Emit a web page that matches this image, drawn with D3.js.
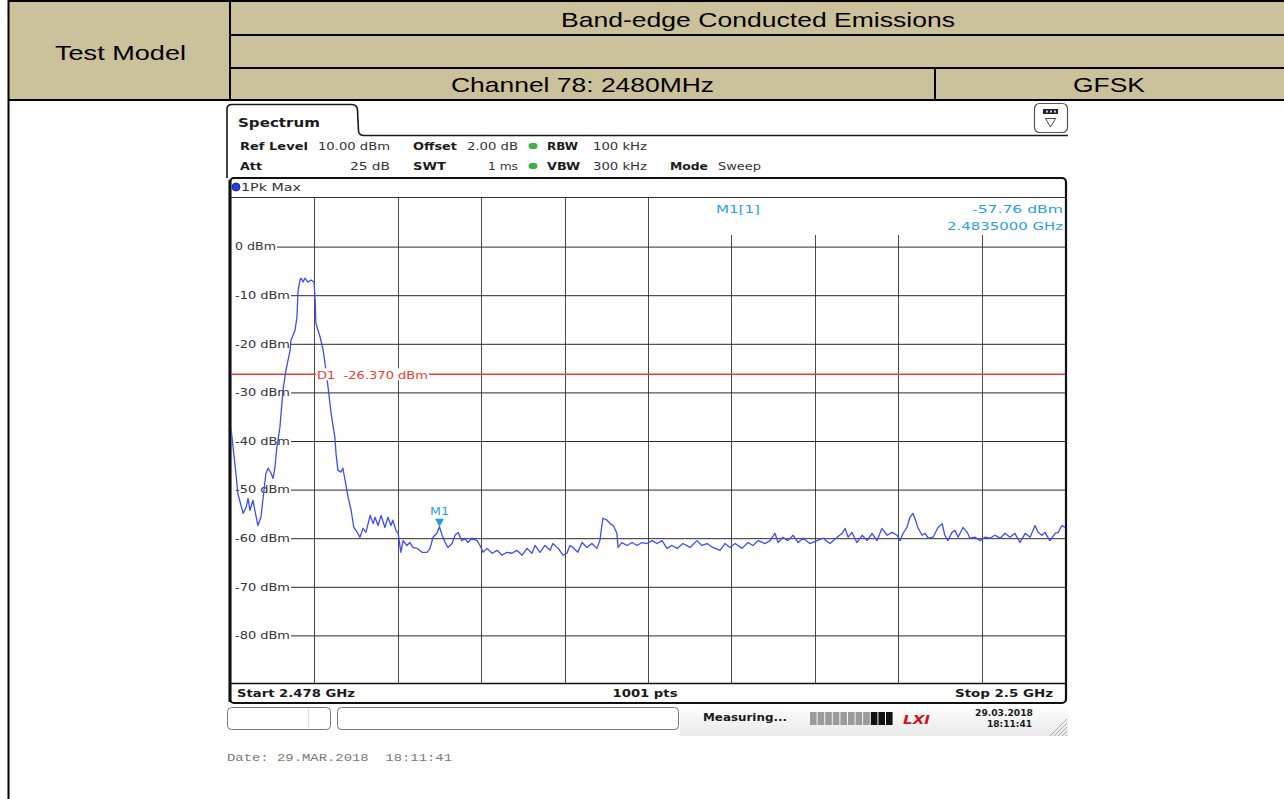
<!DOCTYPE html>
<html>
<head>
<meta charset="utf-8">
<script src="https://cdn.jsdelivr.net/npm/d3@7"></script>
<style>
  html, body { margin: 0; padding: 0; background: #fff; }
  svg { display: block; }
</style>
</head>
<body>
<svg id="chart" width="1284" height="799"></svg>
<script>
// ---- Report table text ----
const headerTitle = "Band-edge Conducted Emissions";
const headerRowLabel = "Test Model";
const channelLabel = "Channel 78: 2480MHz";
const modulationLabel = "GFSK";

// ---- Analyzer settings ----
const startMHz = 2478;
const stopMHz = 2500;
const refLevelDbm = 10;
const bottomLevelDbm = -90;
const xDivisions = 10;
const yTickValues = [0, -10, -20, -30, -40, -50, -60, -70, -80];
const yTickLabels = ["0 dBm", "-10 dBm", "-20 dBm", "-30 dBm", "-40 dBm", "-50 dBm", "-60 dBm", "-70 dBm", "-80 dBm"];
const displayLineDbm = -26.37;
const markerFreqMHz = 2483.5;
const markerLevelDbm = -57.76;

// ---- 1Pk Max trace ----
const traceFreqMHz = [
  2478.00,2478.13,2478.18,2478.32,2478.40,2478.45,2478.50,2478.58,2478.63,2478.71,
  2478.79,2478.84,2478.92,2478.98,2479.06,2479.11,2479.16,2479.21,2479.29,2479.37,
  2479.45,2479.56,2479.58,2479.69,2479.74,2479.77,2479.82,2479.85,2479.90,2479.95,
  2480.03,2480.11,2480.19,2480.22,2480.24,2480.35,2480.43,2480.48,2480.56,2480.64,
  2480.74,2480.77,2480.82,2480.90,2480.95,2481.01,2481.09,2481.17,2481.24,2481.30,
  2481.40,2481.48,2481.56,2481.67,2481.75,2481.80,2481.88,2481.96,2482.06,2482.14,
  2482.22,2482.27,2482.35,2482.41,2482.48,2482.54,2482.64,2482.72,2482.80,2482.91,
  2483.04,2483.17,2483.25,2483.33,2483.43,2483.50,2483.57,2483.65,2483.72,2483.83,
  2483.91,2483.99,2484.09,2484.17,2484.25,2484.36,2484.49,2484.57,2484.65,2484.75,
  2484.89,2485.02,2485.15,2485.28,2485.41,2485.54,2485.68,2485.81,2485.94,2486.02,
  2486.15,2486.28,2486.42,2486.49,2486.63,2486.76,2486.86,2486.94,2487.02,2487.15,
  2487.26,2487.39,2487.52,2487.65,2487.73,2487.81,2487.92,2488.00,2488.08,2488.18,
  2488.21,2488.31,2488.45,2488.58,2488.71,2488.84,2488.97,2489.11,2489.24,2489.37,
  2489.50,2489.63,2489.77,2489.92,2490.11,2490.29,2490.42,2490.56,2490.71,2490.90,
  2491.03,2491.16,2491.30,2491.48,2491.64,2491.77,2491.90,2492.09,2492.22,2492.35,
  2492.43,2492.56,2492.69,2492.83,2492.96,2493.09,2493.27,2493.46,2493.62,2493.80,
  2493.99,2494.12,2494.20,2494.28,2494.38,2494.51,2494.65,2494.78,2494.91,2495.04,
  2495.17,2495.31,2495.44,2495.57,2495.65,2495.73,2495.83,2495.91,2495.99,2496.04,
  2496.12,2496.23,2496.31,2496.39,2496.52,2496.65,2496.76,2496.83,2496.91,2497.02,
  2497.10,2497.18,2497.31,2497.42,2497.49,2497.63,2497.76,2497.89,2498.02,2498.15,
  2498.29,2498.42,2498.55,2498.68,2498.81,2498.95,2499.08,2499.21,2499.29,2499.39,
  2499.47,2499.60,2499.74,2499.82,2499.92,2500.00
];
const traceLevelDbm = [
  -37.5,-46.8,-50.9,-55.0,-53.7,-51.9,-54.4,-52.3,-54.4,-57.5,
  -55.8,-52.3,-46.8,-45.7,-46.8,-47.8,-45.5,-41.4,-37.3,-29.7,
  -25.5,-21.4,-19.4,-17.3,-14.6,-9.1,-7.0,-6.6,-7.4,-6.6,
  -7.4,-7.0,-7.4,-11.1,-15.9,-18.7,-21.4,-24.1,-29.0,-34.4,
  -39.3,-42.6,-46.1,-46.5,-45.7,-48.2,-51.7,-54.4,-57.9,-58.5,
  -59.9,-58.1,-58.9,-55.4,-57.1,-55.8,-57.5,-55.4,-57.9,-55.8,
  -57.5,-56.4,-58.5,-59.1,-63.0,-60.6,-61.6,-61.0,-62.0,-62.2,
  -63.0,-63.0,-62.2,-59.9,-59.1,-57.76,-59.5,-61.0,-62.0,-61.2,
  -59.5,-58.9,-60.6,-60.1,-61.0,-60.1,-60.6,-61.6,-63.0,-62.2,
  -63.2,-62.6,-63.6,-63.0,-63.2,-62.6,-63.6,-62.2,-63.2,-61.6,
  -63.0,-61.6,-62.6,-61.2,-62.2,-63.6,-63.2,-61.6,-62.0,-63.0,
  -61.0,-62.0,-61.2,-62.2,-60.6,-56.0,-56.4,-57.1,-57.5,-59.1,
  -62.0,-61.0,-61.6,-61.0,-61.6,-61.0,-61.2,-60.6,-61.2,-60.6,
  -62.2,-61.6,-62.2,-61.2,-62.0,-60.6,-61.6,-61.2,-62.0,-62.6,
  -61.2,-62.0,-61.2,-62.2,-61.0,-61.6,-60.6,-61.2,-60.6,-59.1,
  -61.0,-59.9,-60.6,-59.5,-61.0,-60.1,-61.2,-60.6,-60.1,-61.2,
  -59.9,-59.1,-58.1,-59.9,-58.9,-61.0,-59.5,-60.6,-59.1,-60.6,
  -58.1,-59.5,-58.9,-59.5,-60.6,-59.1,-57.9,-55.8,-55.0,-56.0,
  -57.9,-59.5,-59.1,-60.1,-59.9,-57.9,-57.1,-59.5,-60.6,-58.9,
  -58.5,-59.9,-57.9,-58.9,-60.1,-59.9,-60.6,-59.9,-60.1,-59.5,
  -60.1,-59.1,-59.9,-59.1,-61.0,-59.1,-59.9,-57.5,-58.9,-59.5,
  -58.9,-60.6,-59.1,-58.9,-57.5,-57.9
];

const svg = d3.select("#chart");

// Text helper: optional fixed rendered width (the screen font is drawn wide)
function label(parent, x, y, str, o = {}) {
  const e = parent.append("text")
    .attr("x", x).attr("y", y).text(str)
    .attr("font-family", o.family || "DejaVu Sans")
    .attr("font-size", o.size || 11)
    .attr("font-weight", o.weight || "normal")
    .attr("font-style", o.style || "normal")
    .attr("fill", o.fill || "#1a1a1a")
    .attr("text-anchor", o.anchor || "start")
    .style("white-space", "pre");
  if (o.w) e.attr("textLength", o.w).attr("lengthAdjust", "spacingAndGlyphs");
  return e;
}

// ================= Report table header =================
const tbl = svg.append("g");
tbl.append("rect").attr("x", 9).attr("y", 1).attr("width", 1275).attr("height", 99).attr("fill", "#cbc29c");
const tLine = (x1, y1, x2, y2, w) => tbl.append("line")
  .attr("x1", x1).attr("y1", y1).attr("x2", x2).attr("y2", y2)
  .attr("stroke", "#000").attr("stroke-width", w);
tLine(8, 1, 1284, 1, 2);
tLine(230, 35, 1284, 35, 2);
tLine(230, 68, 1284, 68, 2);
tLine(8, 100, 1284, 100, 2);
tLine(8.5, 0, 8.5, 799, 2);
tLine(230, 0, 230, 100, 2);
tLine(935, 68, 935, 100, 2);

const hdrFont = { family: "Liberation Sans, Arial, sans-serif", size: 21, fill: "#000" };
label(tbl, 561, 27, headerTitle, { ...hdrFont, w: 394 });
label(tbl, 55, 60, headerRowLabel, { ...hdrFont, w: 131 });
label(tbl, 451, 92, channelLabel, { ...hdrFont, w: 263 });
label(tbl, 1073, 92, modulationLabel, { ...hdrFont, w: 72 });

// ================= Analyzer screen =================
const scr = svg.append("g");

// Tab + panel outline
scr.append("path")
  .attr("d", "M227,178 L227,109 Q227,104.5 232,104.5 L352,104.5 Q357,104.5 357.5,110 L358.5,131 Q359,135.5 364,135.5 L1068,135.5")
  .attr("fill", "none").attr("stroke", "#1a1a1a").attr("stroke-width", 1.6);
label(scr, 238, 127, "Spectrum", { size: 13, weight: "bold", w: 82 });

// Settings lines
const bold = { weight: "bold", size: 11 };
const reg = { size: 11, fill: "#333" };
label(scr, 240, 150, "Ref Level", { ...bold, w: 68 });
label(scr, 318, 150, "10.00 dBm", { ...reg, w: 72 });
label(scr, 413, 150, "Offset", { ...bold, w: 44 });
label(scr, 467, 150, "2.00 dB", { ...reg, w: 51 });
label(scr, 547, 150, "RBW", { ...bold, w: 31 });
label(scr, 593, 150, "100 kHz", { ...reg, w: 54 });
label(scr, 240, 170, "Att", { ...bold, w: 22 });
label(scr, 390, 170, "25 dB", { ...reg, w: 40, anchor: "end" });
label(scr, 413, 170, "SWT", { ...bold, w: 33 });
label(scr, 518, 170, "1 ms", { ...reg, w: 30, anchor: "end" });
label(scr, 547, 170, "VBW", { ...bold, w: 33 });
label(scr, 593, 170, "300 kHz", { ...reg, w: 54 });
label(scr, 670, 170, "Mode", { ...bold, w: 38 });
label(scr, 718, 170, "Sweep", { ...reg, w: 43 });
[146, 166].forEach(cy => scr.append("ellipse")
  .attr("cx", 533).attr("cy", cy).attr("rx", 4.5).attr("ry", 3.2)
  .attr("fill", "#3fb04a"));

// Menu icon, top right
scr.append("rect").attr("x", 1034.5).attr("y", 103.5).attr("width", 33).attr("height", 29).attr("rx", 5)
  .attr("fill", "#fff").attr("stroke", "#555").attr("stroke-width", 1.2);
scr.append("rect").attr("x", 1043).attr("y", 109).attr("width", 15).attr("height", 5).attr("fill", "#223");
[1046, 1050, 1054].forEach(x => scr.append("rect").attr("x", x).attr("y", 110.5).attr("width", 2).attr("height", 2).attr("fill", "#ccd"));
scr.append("path").attr("d", "M1045.5,118.5 L1055.5,118.5 L1050.5,127 Z")
  .attr("fill", "none").attr("stroke", "#444").attr("stroke-width", 1);

// ---- Diagram ----
const plotLeft = 231, plotRight = 1065, plotTop = 197.5, plotBottom = 683.5;
const x = d3.scaleLinear().domain([startMHz, stopMHz]).range([plotLeft, plotRight]);
const y = d3.scaleLinear().domain([bottomLevelDbm, refLevelDbm]).range([plotBottom, plotTop]);

const diag = svg.append("g");
diag.append("rect").attr("x", 230).attr("y", 178).attr("width", 836).attr("height", 525).attr("rx", 4)
  .attr("fill", "#fff").attr("stroke", "#111").attr("stroke-width", 2.2);
diag.append("line").attr("x1", 230).attr("x2", 230).attr("y1", 180).attr("y2", 702)
  .attr("stroke", "#111").attr("stroke-width", 3);

// Trace header "1Pk Max"
diag.append("circle").attr("cx", 236).attr("cy", 187).attr("r", 4).attr("fill", "#1f3fe0").attr("stroke", "#102080").attr("stroke-width", 0.8);
label(diag, 241, 191, "1Pk Max", { size: 11, fill: "#333", w: 60 });

// Vertical grid (10 divisions); the marker readout area pushes the right-hand lines down
const xGrid = d3.range(1, xDivisions).map(i => startMHz + i * (stopMHz - startMHz) / xDivisions);
diag.append("g").selectAll("line").data(xGrid).join("line")
  .attr("x1", d => Math.round(x(d)) + 0.5).attr("x2", d => Math.round(x(d)) + 0.5)
  .attr("y1", d => x(d) > 700 ? 235 : plotTop)
  .attr("y2", plotBottom)
  .attr("stroke", "#4a4a4a").attr("stroke-width", 1);

// Level axis: labels inside the diagram, grid line begins after each label
const yAxis = d3.axisRight(y).tickValues(yTickValues).tickSize(0)
  .tickFormat((d, i) => yTickLabels[i]);
const yAxisG = diag.append("g").attr("transform", `translate(${plotLeft + 4},0)`).call(yAxis);
yAxisG.select(".domain").remove();
yAxisG.selectAll("text")
  .attr("x", 0).attr("dy", "0.35em")
  .attr("font-family", "DejaVu Sans").attr("font-size", 11).attr("fill", "#333")
  .attr("textLength", (d, i) => i === 0 ? 41 : 55)
  .attr("lengthAdjust", "spacingAndGlyphs");
yAxisG.selectAll(".tick").each(function (d, i) {
  const tw = i === 0 ? 41 : 55;
  d3.select(this).append("line")
    .attr("x1", tw + 1).attr("x2", plotRight - plotLeft - 4)
    .attr("y1", 0.5).attr("y2", 0.5)
    .attr("stroke", "#2a2a2a").attr("stroke-width", 1);
});

// Plot frame lines (top of graticule, bottom above the span row)
diag.append("line").attr("x1", plotLeft).attr("x2", plotRight + 1).attr("y1", plotTop).attr("y2", plotTop)
  .attr("stroke", "#333").attr("stroke-width", 1.2);
diag.append("line").attr("x1", plotLeft).attr("x2", plotRight + 1).attr("y1", plotBottom).attr("y2", plotBottom)
  .attr("stroke", "#111").attr("stroke-width", 1.6);

// Display line D1
diag.append("line").attr("x1", plotLeft).attr("x2", plotRight)
  .attr("y1", y(displayLineDbm)).attr("y2", y(displayLineDbm))
  .attr("stroke", "#f03a2e").attr("stroke-width", 1.3);

// Trace
const clip = svg.append("defs").append("clipPath").attr("id", "plotClip");
clip.append("rect").attr("x", plotLeft).attr("y", plotTop).attr("width", plotRight - plotLeft).attr("height", plotBottom - plotTop);
const traceData = traceFreqMHz.map((f, i) => ({ f, l: traceLevelDbm[i] }));
diag.append("path").datum(traceData)
  .attr("clip-path", "url(#plotClip)")
  .attr("d", d3.line().x(d => x(d.f)).y(d => y(d.l)))
  .attr("fill", "none").attr("stroke", "#3d4df5").attr("stroke-width", 1.3)
  .attr("stroke-linejoin", "round");

// D1 label on top of trace and grid
const d1y = y(displayLineDbm);
diag.append("rect").attr("x", 316).attr("y", d1y - 6).attr("width", 113).attr("height", 12).attr("fill", "#fff");
label(diag, 317, d1y + 5, "D1  -26.370 dBm", { size: 11, fill: "#f03a2e", w: 111 });

// Marker M1
const mx = x(markerFreqMHz), my = y(markerLevelDbm);
diag.append("path").attr("d", `M${mx - 4.5},${my - 8} L${mx + 4.5},${my - 8} L${mx},${my} Z`).attr("fill", "#1f9be0");
label(diag, mx, my - 12, "M1", { size: 11, fill: "#2aa3e6", anchor: "middle", w: 19 });

// Marker readout
label(diag, 716, 213, "M1[1]", { size: 11, fill: "#2a9fe4", w: 44 });
label(diag, 1063, 213, markerLevelDbm.toFixed(2) + " dBm", { size: 11, fill: "#2a9fe4", anchor: "end", w: 91 });
label(diag, 1063, 230, (markerFreqMHz / 1000).toFixed(7) + " GHz", { size: 11, fill: "#2a9fe4", anchor: "end", w: 116 });

// Span row
label(diag, 237, 697, "Start 2.478 GHz", { ...bold, w: 118 });
label(diag, 645, 697, "1001 pts", { ...bold, anchor: "middle", w: 65 });
label(diag, 1053, 697, "Stop 2.5 GHz", { ...bold, anchor: "end", w: 98 });

// ---- Status bar ----
const st = svg.append("g");
const grad = svg.select("defs").append("linearGradient").attr("id", "stGrad").attr("x1", 0).attr("y1", 0).attr("x2", 0).attr("y2", 1);
grad.append("stop").attr("offset", "0%").attr("stop-color", "#ffffff");
grad.append("stop").attr("offset", "100%").attr("stop-color", "#e9e9e9");
st.append("rect").attr("x", 680).attr("y", 705).attr("width", 388).attr("height", 31).attr("fill", "url(#stGrad)");
st.append("rect").attr("x", 227.5).attr("y", 707.5).attr("width", 103).attr("height", 22).attr("rx", 4)
  .attr("fill", "#fff").attr("stroke", "#777");
st.append("line").attr("x1", 308.5).attr("x2", 308.5).attr("y1", 709).attr("y2", 728).attr("stroke", "#ddd");
st.append("rect").attr("x", 337.5).attr("y", 707.5).attr("width", 341).attr("height", 22).attr("rx", 4)
  .attr("fill", "#fff").attr("stroke", "#777");
label(st, 703, 721, "Measuring...", { ...bold, size: 10.5, w: 84 });
d3.range(11).forEach(i => st.append("rect")
  .attr("x", 810 + i * 7.6).attr("y", 712).attr("width", 6.6).attr("height", 13)
  .attr("fill", i < 8 ? "#9b9b9b" : "#111"));
label(st, 903, 724, "LXI", { size: 12, weight: "bold", style: "italic", fill: "#d4141c", w: 27 });
label(st, 1033, 716, "29.03.2018", { size: 8.5, weight: "bold", anchor: "end", w: 58 });
label(st, 1032, 727, "18:11:41", { size: 8.5, weight: "bold", anchor: "end", w: 45 });
[0, 4, 8, 12, 16].forEach(k => st.append("line")
  .attr("x1", 1050 + k).attr("y1", 736).attr("x2", 1067).attr("y2", 719 + k)
  .attr("stroke", "#999").attr("stroke-width", 0.8));

// Capture date
label(svg, 227, 761, "Date: 29.MAR.2018  18:11:41", { family: "Liberation Mono, Courier New, monospace", size: 11, fill: "#7a7a7a", w: 225 });
</script>
</body>
</html>
